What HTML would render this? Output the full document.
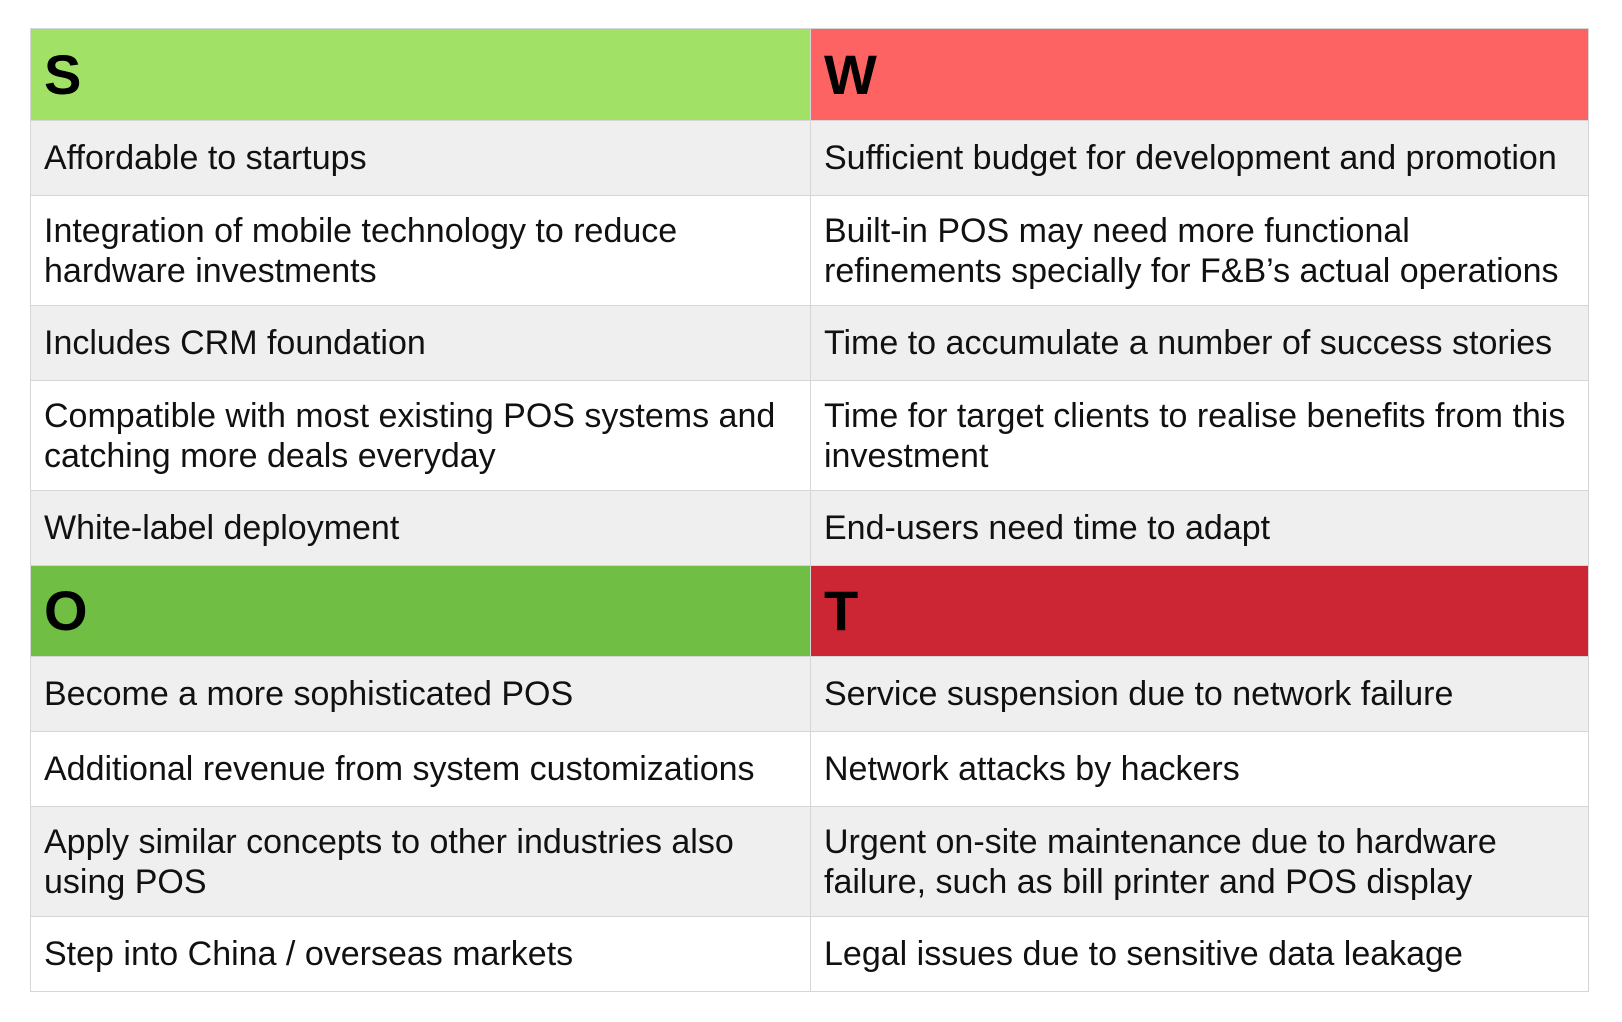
<!DOCTYPE html>
<html><head><meta charset="utf-8"><style>
body{margin:0;width:1622px;height:1022px;background:#fff;overflow:hidden;font-family:"Liberation Sans",Arial,sans-serif;}
.c{position:absolute;box-sizing:border-box;display:flex;align-items:center;padding-left:13px;font-size:34px;line-height:40px;color:#111;border-top:1px solid #d6d6d6;border-left:1px solid #d6d6d6;}
.h{font-weight:bold;font-size:56px;color:#000;}
.g{background:#efefef}.w{background:#fff}
</style></head><body>
<div id="t"></div>
<script>
const rows=[
[28,120,'h','S','W','#a0e166','#fe6363'],
[120,195,'g','Affordable to startups','Sufficient budget for development and promotion'],
[195,305,'w','Integration of mobile technology to reduce<br>hardware investments','Built-in POS may need more functional<br>refinements specially for F&amp;B’s actual operations'],
[305,380,'g','Includes CRM foundation','Time to accumulate a number of success stories'],
[380,490,'w','Compatible with most existing POS systems and<br>catching more deals everyday','Time for target clients to realise benefits from this<br>investment'],
[490,565,'g','White-label deployment','End-users need time to adapt'],
[565,656,'h','O','T','#70bf44','#cc2634'],
[656,731,'g','Become a more sophisticated POS','Service suspension due to network failure'],
[731,806,'w','Additional revenue from system customizations','Network attacks by hackers'],
[806,916,'g','Apply similar concepts to other industries also<br>using POS','Urgent on-site maintenance due to hardware<br>failure, such as bill printer and POS display'],
[916,991,'w','Step into China / overseas markets','Legal issues due to sensitive data leakage']];
let h='';
for(const r of rows){
 const [y1,y2,k,a,b,ca,cb]=r;
 const cols=[[30,810,a,ca],[810,1589,b,cb]];
 for(const [x1,x2,t,col] of cols){
  const cls=k==='h'?'c h':'c '+k;
  const bg=k==='h'?'background:'+col+';':'';
  h+=`<div class="${cls}" style="left:${x1}px;top:${y1}px;width:${x2-x1}px;height:${y2-y1}px;${bg}${x2===1589?'border-right:1px solid #d6d6d6;':''}"><div>${t}</div></div>`;
 }
}
h+='<div style="position:absolute;left:30px;top:991px;width:1559px;height:1px;background:#d6d6d6"></div>';
document.getElementById('t').innerHTML=h;
</script>
</body></html>
